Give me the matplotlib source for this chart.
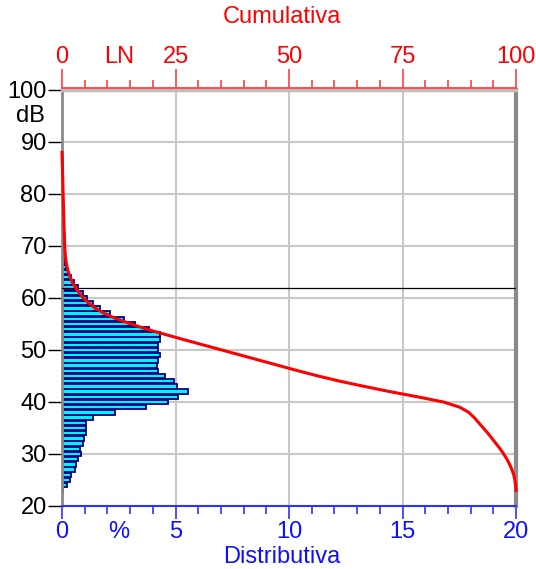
import matplotlib
matplotlib.use("Agg")
import matplotlib.pyplot as plt
import numpy as np
from matplotlib.ticker import MultipleLocator

plt.rcParams['font.family'] = ['Liberation Sans', 'DejaVu Sans']

# Distribution (%) per dB level
levels_db = list(range(23, 88))
distrib_pct = [0.06, 0.23, 0.34, 0.40, 0.59, 0.63, 0.69, 0.85, 0.81, 0.91,   # 23-32
               0.98, 1.07, 1.07, 1.07, 1.36, 2.32, 3.71, 4.66, 5.09, 5.57,   # 33-42
               5.06, 4.94, 4.52, 4.25, 4.18, 4.25, 4.30, 4.22, 4.25, 4.32,   # 43-52
               4.30, 3.83, 3.20, 2.75, 2.10, 1.67, 1.36, 1.11, 0.91, 0.72,   # 53-62
               0.53, 0.40, 0.28, 0.18, 0.12, 0.09, 0.08, 0.07, 0.07, 0.07,   # 63-72
               0.07, 0.07, 0.06, 0.06, 0.06, 0.06, 0.06, 0.06, 0.06, 0.06,   # 73-82
               0.06, 0.06, 0.06, 0.06, 0.06]                                 # 83-87

# Cumulative curve (%) vs dB
cum_db = [88, 85, 80, 75, 70, 68, 67, 66, 65, 64, 63, 62, 61, 60, 59, 58, 57, 56,
          55, 54, 53, 52, 51, 50, 49, 48, 47, 46, 45, 44, 43, 42, 41, 40, 39, 38,
          37, 36, 35, 34, 33, 32, 31, 30, 29, 28, 27, 26, 25, 24, 23]
cum_pct = [0.0, 0.1, 0.25, 0.4, 0.6, 0.75, 0.9, 1.1, 1.4, 1.8, 2.3, 3.0, 3.8, 4.7,
           5.9, 7.4, 9.4, 12.0, 15.2, 18.7, 22.7, 26.8, 31.0, 35.2, 39.4, 43.6,
           47.8, 52.0, 56.4, 61.2, 66.6, 72.2, 78.3, 84.0, 87.6, 89.6, 90.8, 91.8,
           92.8, 93.8, 94.7, 95.6, 96.5, 97.3, 98.0, 98.6, 99.1, 99.5, 99.75, 99.9,
           100.0]

marker_level = 62
y_ticks = list(range(20, 101, 10))
bottom_ticks = [0, 5, 10, 15, 20]
top_ticks = [0, 25, 50, 75, 100]

FS = 17
W, H = 536, 569
fig = plt.figure(figsize=(W / 100, H / 100), dpi=100)
L, R, T, B = 62, 516, 90, 506
ax = fig.add_axes([L / W, 1 - B / H, (R - L) / W, (B - T) / H])

ax.set_xlim(0, 20)
ax.set_ylim(20, 100)
ax.set_axisbelow(True)
ax.grid(True, color='#c8c8c8', lw=1.5)

ax.barh(levels_db, distrib_pct, height=0.82, color='#00f4ff',
        edgecolor='#000080', linewidth=1.3, zorder=2)
ax.axhline(marker_level, color='black', lw=0.9, zorder=3)

# spines
ax.spines['left'].set_color('#8a8a8a')
ax.spines['left'].set_linewidth(2)
ax.spines['right'].set_color('#8a8a8a')
ax.spines['right'].set_linewidth(3)
ax.spines['top'].set_color('#bdbdbd')
ax.spines['top'].set_linewidth(2.5)
ax.spines['bottom'].set_color('#3030ff')
ax.spines['bottom'].set_linewidth(1.5)

# y axis
ax.set_yticks(y_ticks)
ax.tick_params(axis='y', length=10, width=1, colors='black', labelsize=FS, pad=1)

# bottom axis
ax.set_xticks(bottom_ticks)
ax.xaxis.set_minor_locator(MultipleLocator(1))
ax.tick_params(axis='x', which='major', length=9.5, width=1.2, color='#3030ff',
               labelcolor='#1010ff', labelsize=FS, pad=1.5)
ax.tick_params(axis='x', which='minor', length=5.5, width=1.2, color='#3030ff')
ax.annotate('%', xy=(2.5, 0), xycoords=('data', 'axes fraction'),
            xytext=(0, -11), textcoords='offset points', ha='center', va='top',
            color='#1010ff', fontsize=FS)

# top axis (cumulative)
ax2 = ax.twiny()
ax2.set_xlim(0, 100)
ax2.plot(cum_pct, cum_db, color='#ff0000', lw=2.2, zorder=4, clip_on=False)
for s in ['left', 'right', 'bottom']:
    ax2.spines[s].set_visible(False)
ax2.spines['top'].set_color('#ff4040')
ax2.spines['top'].set_linewidth(1.3)
ax2.spines['top'].set_position(('outward', 1.5))
ax2.set_xticks(top_ticks)
ax2.xaxis.set_minor_locator(MultipleLocator(5))
ax2.tick_params(axis='x', which='major', length=14, width=1.2, color='#ff4040',
                labelcolor='#ff0000', labelsize=FS, pad=0.5)
ax2.tick_params(axis='x', which='minor', length=5.5, width=1.2, color='#ff4040')
ax2.annotate('LN', xy=(12.5, 1), xycoords=('data', 'axes fraction'),
             xytext=(0, 16), textcoords='offset points', ha='center', va='bottom',
             color='#ff0000', fontsize=FS)

fig.text(282 / W, 1 - 17 / H, 'Cumulativa', color='#ff0000', fontsize=FS,
         ha='center', va='center')
fig.text(282 / W, 1 - 557 / H, 'Distributiva', color='#1010ff', fontsize=FS,
         ha='center', va='center')
fig.text(30 / W, 1 - 116 / H, 'dB', color='black', fontsize=FS,
         ha='center', va='center')

fig.savefig('out.png', dpi=100)
